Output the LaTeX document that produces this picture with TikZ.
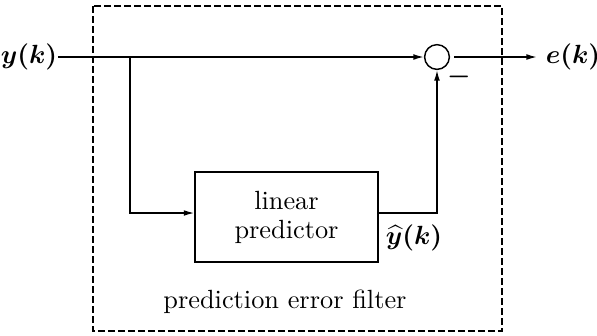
\documentclass[tikz,border=0pt]{standalone}
\usepackage{amsmath}
\usetikzlibrary{arrows.meta}
\begin{document}
\begin{tikzpicture}[x=0.38pt,y=-0.38pt,
  line width=0.55pt,
  arr/.style={-{Latex[length=4pt,width=2.2pt]}},
  lbl/.style={inner sep=0pt,font=\boldmath},
  blk/.style={draw,minimum width=69.5pt,minimum height=34.2pt,align=center,inner sep=0pt},
  sumc/.style={draw,circle,minimum size=9.4pt,inner sep=0pt},
  frame/.style={draw,dash pattern=on 2.6pt off 1.2pt,line width=0.5pt}]
\useasboundingbox (0,0) rectangle (597,335);
\draw[frame] (93,6) rectangle (502,331);
\node[lbl] (yk) at (29,57) {$y(k)$};
\node[lbl] (ek) at (573,57) {$e(k)$};
\node[sumc] (sum) at (437,57) {};
\node[blk] (pred) at (286.5,217) {linear\\[-1pt]predictor};
\node[lbl] (yhat) at (414,238) {$\widehat{y}(k)$};
\node[lbl] (minus) at (459,77) {$-$};
\node (title) at (285,302) {prediction error filter};
\coordinate (j) at (130,57);
\coordinate (a) at (130,213);
\coordinate (b) at (437,213);
\coordinate (out) at (537,57);
\draw[arr] (yk.east) -- (sum.west);
\draw[arr] (j) -- (a) -- (a -| pred.west);
\draw[arr] (b -| pred.east) -- (b) -- (sum.south);
\draw[arr] (sum.east) ++(4,0) -- (out);
\end{tikzpicture}
\end{document}
